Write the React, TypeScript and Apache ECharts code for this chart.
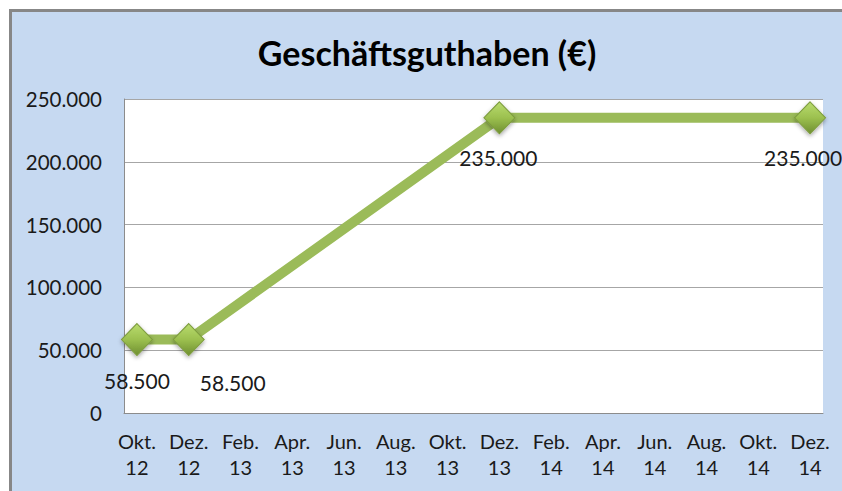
import React, { useEffect, useRef } from "react";
import * as echarts from "echarts";

const titleText = "Geschäftsguthaben (€)";

const months = [
  "Okt. 12", "Nov. 12", "Dez. 12",
  "Jan. 13", "Feb. 13", "Mär. 13", "Apr. 13", "Mai. 13", "Jun. 13",
  "Jul. 13", "Aug. 13", "Sep. 13", "Okt. 13", "Nov. 13", "Dez. 13",
  "Jan. 14", "Feb. 14", "Mär. 14", "Apr. 14", "Mai. 14", "Jun. 14",
  "Jul. 14", "Aug. 14", "Sep. 14", "Okt. 14", "Nov. 14", "Dez. 14",
];

const pointDates = ["Okt. 12", "Dez. 12", "Dez. 13", "Dez. 14"];
const pointValues = [58500, 58500, 235000, 235000];

const yMin = 0;
const yMax = 250000;
const yStep = 50000;

// label placement (styling only)
const labelOffsets = [
  [0, 41],
  [44, 43],
  [-1, 40],
  [-7, 40],
];

const fmt = (v: number) =>
  String(Math.round(v)).replace(/\B(?=(\d{3})+(?!\d))/g, ".");

export default function App() {
  const ref = useRef<HTMLDivElement>(null);
  useEffect(() => {
    if (!ref.current) return;
    const chart = echarts.init(ref.current, undefined, { renderer: "svg" });
    const font = "Lato, 'Open Sans', sans-serif";
    chart.setOption({
      animation: false,
      backgroundColor: "#c6d9f1",
      textStyle: { fontFamily: font },
      title: {
        text: titleText,
        left: "center",
        top: 18,
        textStyle: { fontFamily: font, fontSize: 34, fontWeight: "bold", color: "#000" },
      },
      grid: {
        left: 112,
        right: 19,
        top: 87,
        bottom: 78,
        show: true,
        backgroundColor: "#ffffff",
        borderWidth: 0,
        containLabel: false,
      },
      xAxis: {
        type: "category",
        data: months,
        boundaryGap: true,
        axisLine: { show: true, lineStyle: { color: "#8c8c8c", width: 1 } },
        axisTick: { show: false },
        splitLine: { show: false },
        axisLabel: {
          interval: 1,
          margin: 15,
          fontSize: 20,
          lineHeight: 26,
          color: "#1a1a1a",
          fontFamily: font,
          formatter: (v: string) => v.replace(" ", "\n"),
        },
      },
      yAxis: {
        type: "value",
        min: yMin,
        max: yMax,
        interval: yStep,
        axisLine: { show: true, lineStyle: { color: "#8c8c8c", width: 1 } },
        axisTick: { show: false },
        splitLine: { show: true, lineStyle: { color: "#a6a6a6", width: 1 } },
        axisLabel: {
          margin: 22,
          fontSize: 20.5,
          color: "#1a1a1a",
          fontFamily: font,
          formatter: (v: number) => fmt(v),
        },
      },
      series: [
        {
          type: "line",
          data: pointDates.map((d, i) => ({
            value: [d, pointValues[i]],
            label: { offset: labelOffsets[i] },
          })),
          lineStyle: { color: "#9bbb59", width: 10, cap: "butt" },
          symbol: "diamond",
          symbolSize: [31, 32],
          itemStyle: {
            color: new echarts.graphic.LinearGradient(0, 0, 0, 1, [
              { offset: 0, color: "#b9dc6e" },
              { offset: 0.5, color: "#9cc04f" },
              { offset: 1, color: "#6f8f30" },
            ]),
            borderColor: "#7d9c3e",
            borderWidth: 1,
            shadowColor: "rgba(0,0,0,0.35)",
            shadowBlur: 4,
            shadowOffsetY: 2,
          },
          label: {
            show: true,
            position: "inside",
            fontSize: 21,
            color: "#1a1a1a",
            fontFamily: font,
            formatter: (p: any) => fmt(p.value[1]),
          },
          z: 3,
        },
      ],
    });
    return () => chart.dispose();
  }, []);
  return (
    <div
      style={{
        position: "absolute",
        left: 9,
        top: 9,
        width: 833,
        height: 482,
        borderTop: "3px solid #878787",
        borderLeft: "3px solid #878787",
        boxSizing: "border-box",
        background: "#c6d9f1",
      }}
    >
      <div ref={ref} style={{ width: 830, height: 479 }} />
    </div>
  );
}
